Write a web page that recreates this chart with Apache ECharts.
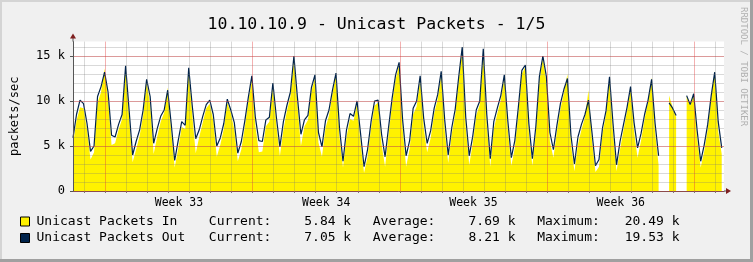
<!DOCTYPE html>
<html><head><meta charset="utf-8">
<script src="https://cdn.jsdelivr.net/npm/echarts@6/dist/echarts.min.js"></script>
<style>html,body{margin:0;padding:0;background:#F0F0F0;}#c{width:753px;height:262px;}</style>
</head><body><div id="c"></div>
<script>
// ---- data (values in thousands of packets/sec, one sample every 4 hours) ----
const chartTitle = '10.10.10.9 - Unicast Packets - 1/5';
const yAxisName = 'packets/sec';
const STEP_HOURS = 4;
const X_MAX_HOURS = 742.6;
const Y_MAX = 16.6;
const seriesNames = ['Unicast Packets In', 'Unicast Packets Out'];
const seriesColors = ['#FFF200', '#00234B'];
const currentVals = ['5.84 k', '7.05 k'];
const averageVals = ['7.69 k', '8.21 k'];
const maximumVals = ['20.49 k', '19.53 k'];
const dayLineHours = [12.84, 36.84, 60.84, 84.84, 108.84, 132.84, 156.84, 180.84, 204.84, 228.84,
  252.84, 276.84, 300.84, 324.84, 348.84, 372.84, 396.84, 420.84, 444.84, 468.84, 492.84, 516.84,
  540.84, 564.84, 588.84, 612.84, 636.84, 660.84, 684.84, 708.84, 732.84];
const weekLabelHours = [120.84, 288.84, 456.84, 624.84];
const weekLabels = ['Week 33', 'Week 34', 'Week 35', 'Week 36'];

const inValues = [5.2,7.8,9.3,9.2,6.8,3.5,4.3,9.8,11.0,13.6,
 10.2,5.1,5.3,6.8,8.0,13.5,8.1,3.2,4.6,6.1,
 8.4,12.1,9.6,4.1,6.0,7.7,8.7,11.5,6.6,2.6,
 4.7,7.1,6.9,13.4,8.5,4.2,6.0,7.6,9.2,9.7,
 7.8,3.8,5.1,6.9,9.8,8.7,6.8,3.3,4.6,7.1,
 9.9,12.3,7.3,4.3,4.4,7.2,7.7,11.6,7.3,3.9,
 6.8,8.9,10.5,14.6,9.5,5.0,7.2,7.9,11.1,12.5,
 5.4,3.8,7.0,8.4,10.8,12.9,6.0,2.6,6.0,8.0,
 7.8,9.7,5.4,2.0,3.8,7.0,9.5,9.8,5.2,2.7,
 6.3,9.7,12.4,14.0,6.9,2.7,4.7,8.5,9.4,12.3,
 7.1,4.3,5.9,8.6,10.2,12.9,6.8,3.1,6.3,8.5,
 12.3,15.6,7.1,2.9,5.3,8.4,9.6,15.3,7.4,2.7,
 6.9,8.6,10.1,12.5,6.8,2.8,4.8,8.7,13.0,13.8,
 6.5,2.8,6.5,12.2,14.8,12.0,5.5,3.7,6.6,9.1,
 10.9,13.0,5.2,2.2,5.2,6.8,8.2,11.2,5.6,2.1,
 2.7,6.4,8.5,12.4,6.4,2.2,4.6,6.8,8.9,11.3,
 6.6,3.7,5.6,8.0,9.9,12.6,6.5,2.9,null,null,
 10.6,9.3,8.2,null,null,10.5,9.5,10.6,5.8,2.6,
 4.4,6.8,10.3,13.3,6.6,4.1];

const outValues = [5.9,8.5,10.1,9.7,7.5,4.4,5.0,10.5,11.6,13.2,
 11.0,6.2,6.0,7.4,8.5,13.9,9.0,4.0,5.5,6.8,
 9.0,12.4,10.5,5.3,6.9,8.3,9.0,11.2,7.5,3.4,
 5.6,7.7,7.3,13.7,9.5,5.8,6.8,8.3,9.6,10.1,
 8.5,5.0,5.9,7.5,10.2,9.0,7.6,4.2,5.5,7.8,
 10.4,12.8,8.2,5.6,5.5,7.9,8.2,12.0,8.2,4.9,
 7.7,9.5,11.0,15.0,10.4,6.3,7.9,8.4,11.5,12.9,
 6.5,4.9,7.8,9.0,11.2,13.1,7.0,3.3,6.8,8.6,
 8.3,10.0,6.4,2.7,4.6,7.7,10.0,10.1,6.3,3.8,
 7.1,10.3,12.9,14.3,7.9,3.9,5.6,9.2,10.0,12.8,
 8.1,5.3,6.7,9.2,10.7,13.3,7.9,4.0,7.0,9.1,
 12.7,16.0,8.2,3.9,6.1,9.0,10.0,15.8,8.5,3.6,
 7.7,9.2,10.6,12.9,7.8,3.7,5.6,9.3,13.4,14.0,
 7.5,3.6,7.2,12.7,15.0,12.7,6.5,4.6,7.3,9.7,
 11.3,12.5,6.2,3.0,6.0,7.4,8.5,10.1,6.5,2.8,
 3.5,7.0,8.9,12.7,7.5,2.9,5.5,7.4,9.3,11.6,
 7.6,4.8,6.4,8.5,10.1,12.4,7.5,3.9,null,null,
 9.8,9.2,8.4,null,null,10.6,9.6,10.8,6.7,3.3,
 5.1,7.4,10.6,13.2,7.7,4.8];

// ---- chart ----
const MONO = '"DejaVu Sans Mono", "Liberation Mono", monospace';
const GRID_GRAY = 'rgba(120,120,120,0.28)';
const GRID_RED = 'rgba(225,60,60,0.40)';
const toPairs = arr => arr.map((v, i) => [i * STEP_HOURS, v]);

const chart = echarts.init(document.getElementById('c'), null, {renderer: 'canvas'});
const legendText = (name) => {
  const k = seriesNames.indexOf(name);
  return '{a|' + name + '}{b|Current:}{c|' + currentVals[k] + '}{d|Average:}{e|' + averageVals[k] +
    '}{f|Maximum:}{g|' + maximumVals[k] + '}';
};
const rt = {fontFamily: MONO, fontSize: 13, color: '#000', lineHeight: 14};
chart.setOption({
  animation: false,
  backgroundColor: '#F0F0F0',
  title: {
    text: chartTitle, left: 'center', top: 11,
    textStyle: {fontFamily: MONO, fontSize: 16.5, fontWeight: 'normal', color: '#000'}
  },
  legend: {
    orient: 'vertical', left: 20, top: 215, padding: 0, itemWidth: 9, itemHeight: 9, itemGap: 3.5,
    selectedMode: false, icon: 'rect',
    data: seriesNames.map((n, k) => ({name: n, icon: 'rect',
      itemStyle: {color: seriesColors[k], borderColor: '#000', borderWidth: 1}})),
    formatter: legendText,
    textStyle: {
      fontFamily: MONO, fontSize: 13, color: '#000',
      rich: {
        a: Object.assign({width: 172.3, align: 'left', padding: [0, 0, 0, 2]}, rt),
        b: Object.assign({width: 80, align: 'left'}, rt),
        c: Object.assign({width: 62.4, align: 'right'}, rt),
        d: Object.assign({width: 84.2, align: 'right'}, rt),
        e: Object.assign({width: 80.1, align: 'right'}, rt),
        f: Object.assign({width: 84.3, align: 'right'}, rt),
        g: Object.assign({width: 79.7, align: 'right'}, rt)
      }
    }
  },
  grid: {left: 73, right: 29, top: 41.6, bottom: 71, show: true, backgroundColor: '#FFFFFF', borderWidth: 0},
  xAxis: [{
    type: 'value', min: 0, max: X_MAX_HOURS, zlevel: 1, z: 3,
    axisLine: {show: true, lineStyle: {color: '#555', width: 1}},
    axisTick: {show: true, length: 2, customValues: dayLineHours, lineStyle: {color: '#777'}},
    axisLabel: {
      customValues: weekLabelHours, margin: 6,
      fontFamily: MONO, fontSize: 11.5, color: '#000',
      formatter: v => {
        const k = weekLabelHours.findIndex(h => Math.abs(h - v) < 0.01);
        return k >= 0 ? weekLabels[k] : '';
      }
    },
    splitLine: {show: true, lineStyle: {width: 1,
      color: [GRID_GRAY, GRID_RED, GRID_GRAY, GRID_GRAY, GRID_GRAY, GRID_GRAY, GRID_GRAY]}}
  }],
  yAxis: [{
    type: 'value', min: 0, max: Y_MAX, interval: 1, zlevel: 1, z: 3,
    axisLine: {show: false}, axisTick: {show: false}, axisLabel: {show: false},
    splitLine: {show: true, showMaxLine: false, lineStyle: {color: GRID_GRAY, width: 1}}
  }, {
    type: 'value', min: 0, max: Y_MAX, interval: 5, zlevel: 1, z: 4, position: 'left',
    name: yAxisName, nameLocation: 'middle', nameRotate: 90, nameGap: 52,
    nameTextStyle: {fontFamily: MONO, fontSize: 12, color: '#000'},
    axisLine: {show: true, lineStyle: {color: '#555', width: 1}},
    axisTick: {show: true, length: 3, lineStyle: {color: '#555'}},
    axisLabel: {
      margin: 8, showMaxLabel: false, fontFamily: MONO, fontSize: 12, color: '#000',
      formatter: v => (v === 0 ? '0' : (Math.abs(v % 5) < 1e-6 ? v + ' k' : ''))
    },
    splitLine: {show: true, showMaxLine: false, lineStyle: {color: GRID_RED, width: 1}}
  }],
  series: [{
    name: seriesNames[0], type: 'line', xAxisIndex: 0, yAxisIndex: 0,
    data: toPairs(inValues), showSymbol: false, symbol: 'none', connectNulls: false,
    lineStyle: {width: 0}, areaStyle: {color: seriesColors[0], opacity: 1},
    itemStyle: {color: seriesColors[0]}, z: 1
  }, {
    name: seriesNames[1], type: 'line', xAxisIndex: 0, yAxisIndex: 0,
    data: toPairs(outValues), showSymbol: false, symbol: 'none', connectNulls: false,
    lineStyle: {width: 1.2, color: seriesColors[1]}, itemStyle: {color: seriesColors[1]}, z: 2
  }]
});

// decorations: axis arrows, frame shading, watermark
const p0 = chart.convertToPixel({gridIndex: 0}, [0, 0]);
const pTop = chart.convertToPixel({gridIndex: 0}, [0, Y_MAX]);
const pRight = chart.convertToPixel({gridIndex: 0}, [X_MAX_HOURS, 0]);
const ARROW = '#7F1F1F';
chart.setOption({
  graphic: [
    {type: 'line', zlevel: 1, shape: {x1: p0[0], y1: pTop[1], x2: p0[0], y2: pTop[1] - 4}, style: {stroke: '#555', lineWidth: 1}, z: 10},
    {type: 'polygon', zlevel: 1, shape: {points: [[p0[0] - 3, pTop[1] - 3], [p0[0] + 3, pTop[1] - 3], [p0[0], pTop[1] - 8]]}, style: {fill: ARROW}, z: 11},
    {type: 'line', zlevel: 1, shape: {x1: pRight[0], y1: p0[1], x2: pRight[0] + 4, y2: p0[1]}, style: {stroke: '#555', lineWidth: 1}, z: 10},
    {type: 'polygon', zlevel: 1, shape: {points: [[pRight[0] + 2, p0[1] - 3], [pRight[0] + 2, p0[1] + 3], [pRight[0] + 7, p0[1]]]}, style: {fill: ARROW}, z: 11},
    {type: 'rect', shape: {x: 0, y: 0, width: 753, height: 2}, style: {fill: '#D4D4D4'}, z: 20},
    {type: 'rect', shape: {x: 0, y: 0, width: 2, height: 262}, style: {fill: '#D4D4D4'}, z: 20},
    {type: 'rect', shape: {x: 0, y: 259, width: 753, height: 3}, style: {fill: '#A0A0A0'}, z: 21},
    {type: 'rect', shape: {x: 750, y: 0, width: 3, height: 262}, style: {fill: '#A0A0A0'}, z: 21},
    {type: 'text', x: 743, y: 7, rotation: -Math.PI / 2,
      style: {text: 'RRDTOOL / TOBI OETIKER', fill: '#B0B0B0', font: '9px ' + MONO, textAlign: 'left', textVerticalAlign: 'middle'}, z: 20}
  ]
});
</script>
</body></html>
